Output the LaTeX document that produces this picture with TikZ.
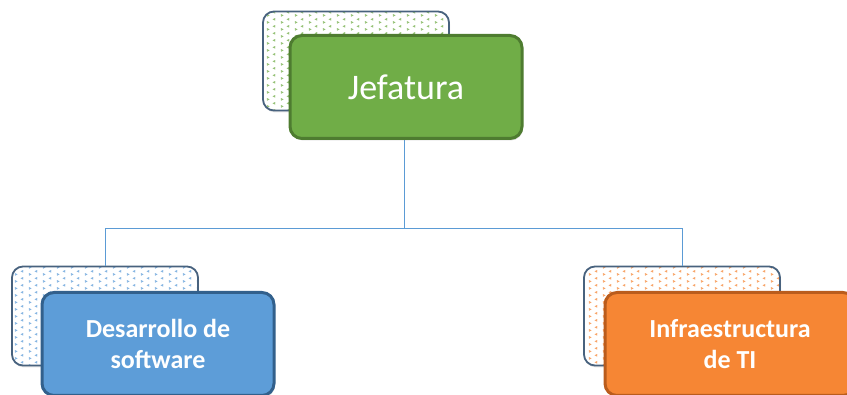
\documentclass[tikz,border=0pt]{standalone}
\usepackage{fontspec}
\setmainfont{Carlito}
\usetikzlibrary{patterns.meta,shadows}
\definecolor{jefgreen}{RGB}{112,173,71}
\definecolor{jefedge}{RGB}{78,124,48}
\definecolor{desblue}{RGB}{93,157,216}
\definecolor{desedge}{RGB}{50,96,140}
\definecolor{infraorange}{RGB}{246,134,52}
\definecolor{infraedge}{RGB}{186,92,28}
\definecolor{backedge}{RGB}{72,98,126}
\definecolor{linkblue}{RGB}{91,155,213}

\tikzdeclarepattern{
  name=chevrons,
  type=uncolored,
  bounding box={(0,0) and (14pt,7pt)},
  tile size={(14pt,7pt)},
  code={
    \draw[line width=1pt] (1pt,0.8pt) -- (2.8pt,1.8pt) -- (1pt,2.8pt);
    \draw[line width=1pt] (9.8pt,4.3pt) -- (8pt,5.3pt) -- (9.8pt,6.3pt);
  }
}

\begin{document}
\begin{tikzpicture}[
  x=1pt, y=-1pt,
  backbox/.style={rectangle, draw=backedge, line width=1.8pt, rounded corners=11pt, minimum width=186pt, minimum height=99pt, drop shadow={opacity=0.2, shadow xshift=1pt, shadow yshift=-2pt}, preaction={fill=white}},
  frontbox/.style={rectangle, line width=3pt, rounded corners=12pt, minimum width=232pt, minimum height=103pt, align=center, text=white, drop shadow={opacity=0.3, shadow xshift=1pt, shadow yshift=-2pt}},
  link/.style={draw=linkblue, line width=0.8pt}
]
\useasboundingbox (0,0) rectangle (847,395);

% Back cards
\node[backbox, pattern={chevrons}, pattern color=jefgreen!75] (jefback) at (356,61) {};
\node[backbox, pattern={chevrons}, pattern color=desblue!75] (desback) at (105,316) {};
\node[backbox, pattern={chevrons}, pattern color=infraorange!75, minimum width=196pt] (infback) at (682,316) {};

% Connectors
\coordinate (bus) at (404,228);
\draw[link] (404,138) -- (bus);
\draw[link] (bus) -| (desback.north);
\draw[link] (bus) -| (infback.north);

% Front cards
\node[frontbox, fill=jefgreen, draw=jefedge, font=\fontsize{36}{43}\selectfont] (jefatura) at (406,87) {Jefatura};
\node[frontbox, fill=desblue, draw=desedge, font=\fontsize{26}{31}\selectfont\bfseries] (desarrollo) at (158,344) {Desarrollo de\\software};
\node[frontbox, fill=infraorange, draw=infraedge, minimum width=250pt, font=\fontsize{26}{31}\selectfont\bfseries] (infra) at (730,344) {Infraestructura\\de TI};

\end{tikzpicture}
\end{document}
